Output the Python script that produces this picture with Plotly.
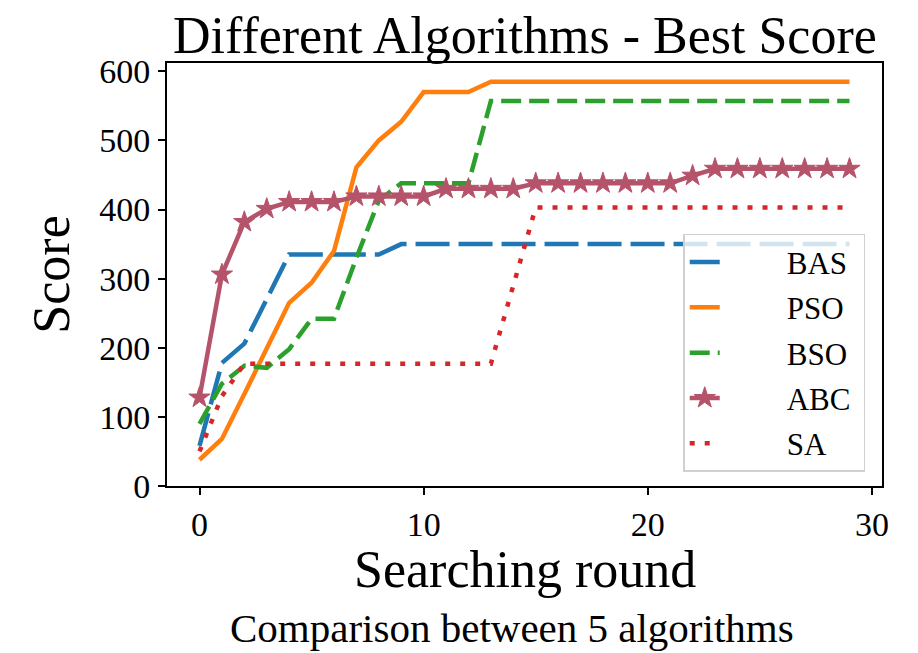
import plotly.graph_objects as go

rounds = list(range(30))
BAS = [58, 178, 206, 270, 335, 335, 335, 335, 335, 350, 350, 350, 350, 350, 350,
       350, 350, 350, 350, 350, 350, 350, 350, 350, 350, 350, 350, 350, 350, 350]
PSO = [38, 68, 133, 200, 265, 294, 340, 461, 500, 527, 570, 570, 570, 585, 585,
       585, 585, 585, 585, 585, 585, 585, 585, 585, 585, 585, 585, 585, 585, 585]
BSO = [90, 148, 174, 171, 198, 242, 242, 330, 413, 438, 438, 438, 438, 557, 557,
       557, 557, 557, 557, 557, 557, 557, 557, 557, 557, 557, 557, 557, 557, 557]
ABC = [128, 306, 382, 401, 411, 411, 411, 419, 419, 419, 419, 430, 430, 430, 430,
       438, 438, 438, 438, 438, 438, 438, 449, 459, 459, 459, 459, 459, 459, 459]
SA = [50, 130, 177, 177, 177, 177, 177, 177, 177, 177, 177, 177, 177, 177, 290,
      403, 403, 403, 403, 403, 403, 403, 403, 403, 403, 403, 403, 403, 403, 403]

names = ["BAS", "PSO", "BSO", "ABC", "SA"]
x_ticks = [0, 10, 20, 30]
y_ticks = [0, 100, 200, 300, 400, 500, 600]

FONT = "Liberation Serif, Times New Roman, serif"
LW = 4.5
PAD = "\u00a0" * 8

fig = go.Figure()
styles = [
    (BAS, "#1f77b4", "34px,9px", None),
    (PSO, "#ff7f0e", "solid", None),
    (BSO, "#2ca02c", "20px,8px", None),
    (ABC, "#b5536b", "solid", "star"),
    (SA, "#d62728", "5px,10px", None),
]
for name, (vals, color, dash, marker) in zip(names, styles):
    kw = dict(x=rounds, y=vals, name=PAD + name + "\u00a0", legendgroup=name,
              line=dict(color=color, width=LW, dash=dash))
    if marker:
        kw["mode"] = "lines+markers"
        kw["marker"] = dict(symbol="star", size=16, color=color,
                            line=dict(color=color, width=1))
    else:
        kw["mode"] = "lines"
    fig.add_trace(go.Scatter(**kw))

axis_common = dict(showline=True, linecolor="black", linewidth=1.8, mirror=True,
                   ticks="outside", ticklen=7, tickwidth=1.6, tickcolor="black",
                   showgrid=False, zeroline=False,
                   tickfont=dict(family=FONT, size=34, color="black"))

fig.update_xaxes(range=[-1.45, 30.45], tickvals=x_ticks, ticklabelstandoff=0, **axis_common)
fig.update_yaxes(range=[0, 612], tickvals=y_ticks, ticklabelstandoff=1, **axis_common)

fig.update_layout(
    width=910, height=645,
    margin=dict(l=159, r=36, t=55, b=167),
    plot_bgcolor="white", paper_bgcolor="white",
    showlegend=True,
    legend=dict(x=0.722, y=0.596, xanchor="left", yanchor="top",
                bgcolor="rgba(255,255,255,0.8)", bordercolor="#d0d0d0", borderwidth=1.5,
                font=dict(family=FONT, size=31, color="black"),
                traceorder="grouped", tracegroupgap=2),
    annotations=[
        dict(text="Different Algorithms - Best Score", xref="paper", yref="paper",
             x=0.5, y=1.066, xanchor="center", yanchor="middle", showarrow=False,
             font=dict(family=FONT, size=52, color="black")),
        dict(text="Searching round", xref="paper", yref="paper",
             x=0.5, y=-0.197, xanchor="center", yanchor="middle", showarrow=False,
             font=dict(family=FONT, size=52, color="black")),
        dict(text="Comparison between 5 algorithms", xref="paper", yref="paper",
             x=0.483, y=-0.336, xanchor="center", yanchor="middle", showarrow=False,
             font=dict(family=FONT, size=41, color="black")),
        dict(text="Score", xref="paper", yref="paper", textangle=-90,
             x=-0.162, y=0.5, xanchor="center", yanchor="middle", showarrow=False,
             font=dict(family=FONT, size=52, color="black")),
    ],
)

fig.write_html("out.html")
